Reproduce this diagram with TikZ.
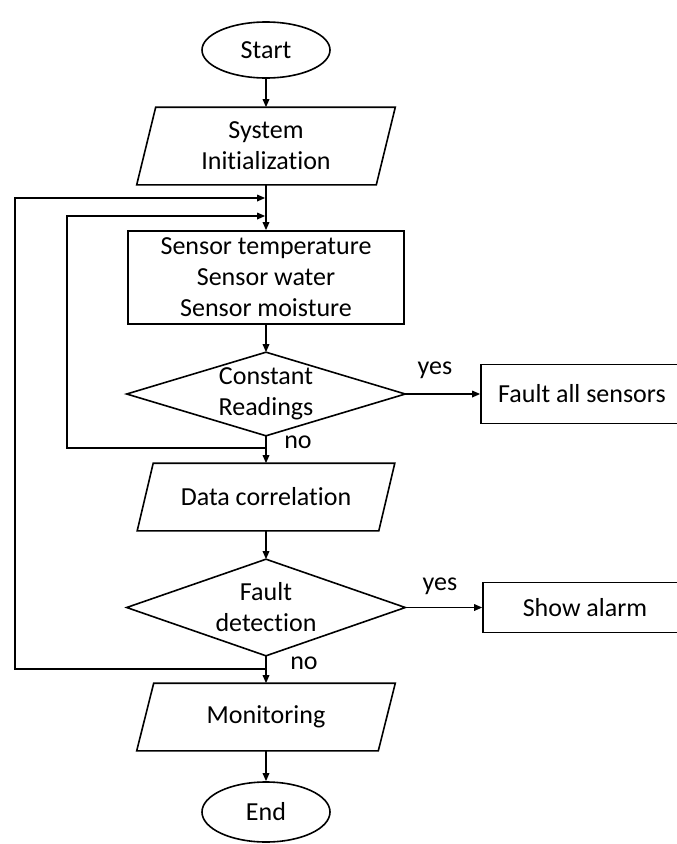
\documentclass[tikz,border=0pt]{standalone}
\usepackage{fontspec}
\setmainfont{Carlito}[RawFeature=-liga]
\usetikzlibrary{arrows.meta,shapes.geometric}
\begin{document}
\begin{tikzpicture}[x=1pt,y=-1pt,line width=1.6pt,
  txt/.style={font=\fontsize{26}{31}\selectfont,align=center,inner sep=0pt},
  term/.style={txt,draw,ellipse,minimum width=128,minimum height=#1},
  boxed/.style={txt,draw,rectangle},
  arr/.style={-{Triangle[length=8pt,width=6.5pt]}}]
\clip (0,0) rectangle (677,844);
% nodes
\node[term=56] (start) at (266,50) {Start};
\node[txt,minimum width=238,minimum height=76] (sys) at (266,146) {System\\Initialization};
\node[boxed,minimum width=276,minimum height=93] (sens) at (266,277.5) {Sensor temperature\\Sensor water\\Sensor moisture};
\node[txt,minimum width=277,minimum height=82] (d1) at (266,394) {Constant\\Readings};
\node[boxed,minimum width=202,minimum height=59] (fault) at (582,394) {Fault all sensors};
\node[txt,minimum width=240,minimum height=66] (corr) at (266,497) {Data correlation};
\node[txt,minimum width=277,minimum height=95] (d2) at (266,607.5) {Fault\\detection};
\node[boxed,minimum width=204,minimum height=50] (alarm) at (585,607.5) {Show alarm};
\node[txt,minimum width=240,minimum height=66] (mon) at (266,717) {Monitoring};
\node[term=60] (end) at (266,812) {End};
% labels
\node[txt] (yes1) at (435,370) {yes};
\node[txt] (no1) at (298,442) {no};
\node[txt] (yes2) at (440,586) {yes};
\node[txt] (no2) at (304,663) {no};
% parallelograms
\foreach \n/\s in {sys/9.5,corr/8,mon/8.5}
  \draw ([xshift=\s pt]\n.north west) -- ([xshift=\s pt]\n.north east)
        -- ([xshift=-\s pt]\n.south east) -- ([xshift=-\s pt]\n.south west) -- cycle;
% diamonds
\foreach \n in {d1,d2}
  \draw (\n.north) -- (\n.east) -- (\n.south) -- (\n.west) -- cycle;
% coordinates for loops
\coordinate (j1) at (266,448);
\coordinate (i1) at (67,448);
\coordinate (m2) at (265.2,216);
\coordinate (j2) at (266,669);
\coordinate (o1) at (15,669);
\coordinate (m1) at (265.2,198);
% connectors
\draw[arr] (start.south) -- (sys.north);
\draw[arr] (sys.south) -- (sens.north);
\draw[arr] (sens.south) -- (d1.north);
\draw[arr] (d1.south) -- (corr.north);
\draw[arr] (d1.east) -- (fault.west);
\draw[arr] (corr.south) -- (d2.north);
\draw[arr] (d2.east) -- (alarm.west);
\draw[arr] (d2.south) -- (mon.north);
\draw[arr] (mon.south) -- (end.north);
\draw[arr] (j1) -- (i1) |- (m2);
\draw[arr] (j2) -- (o1) |- (m1);
\end{tikzpicture}
\end{document}
